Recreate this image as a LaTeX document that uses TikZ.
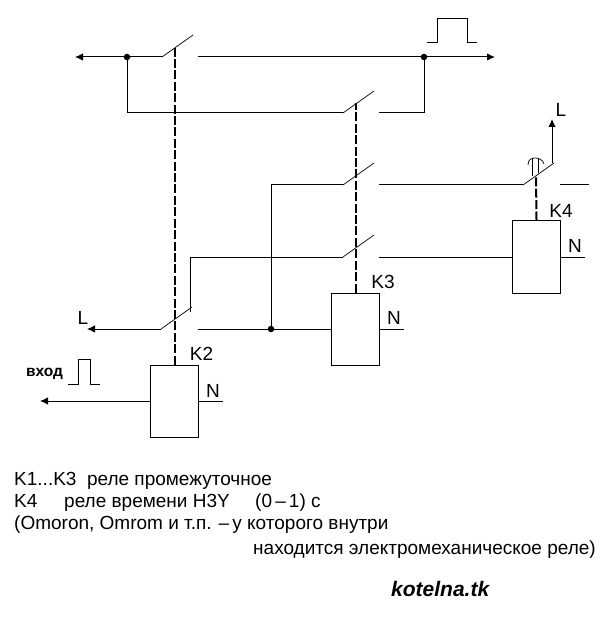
\documentclass[tikz,border=0pt]{standalone}
\usepackage{fontspec}
\setmainfont{Liberation Sans}
\usetikzlibrary{arrows.meta}
\definecolor{wire}{RGB}{0, 0, 0}

\tikzset{
  relay/.style={draw=wire, line width=1, minimum width=48.5, minimum height=72, inner sep=0},
  link/.style={wire, line width=1},
  contact/.style={wire, line width=0.7},
  linkage/.style={wire, line width=2, dash pattern=on 9 off 2.4},
  junction/.style={circle, fill=wire, minimum size=6.5, inner sep=0},
  wiretip/.style={-{Latex[length=8, width=7.5]}},
  tag/.style={font=\fontsize{19}{19}\selectfont, inner sep=0},
  memo/.style={font=\fontsize{19}{19}\selectfont, anchor=base west, inner sep=0}
}

\begin{document}
\begin{tikzpicture}[x=1pt, y=-1pt]
  \useasboundingbox (0, 0) rectangle (609, 617);

  % Relays
  \node[relay] (K2) at (174.5, 401) {};
  \node[relay] (K3) at (355.5, 329) {};
  \node[relay] (K4) at (536.5, 257) {};

  % Junctions
  \node[junction] (jA) at (127, 57) {};
  \node[junction] (jB) at (424, 57) {};
  \node[junction] (jC) at (271, 329) {};

  % Free ends
  \coordinate (inL) at (75, 57);
  \coordinate (inR) at (495, 57);
  \coordinate (outL) at (87, 329);
  \coordinate (outK) at (40, 401);
  \coordinate (outU) at (552, 119);

  % Top line and its bypass
  \draw[link, wiretip] (jA) -- (inL);
  \draw[link, wiretip] (jB) -- (inR);
  \draw[link] (jA) -- (162, 57);
  \draw[link] (198, 57) -- (jB);
  \draw[link] (jA) |- (343, 113);
  \draw[link] (379, 113) -| (jB);

  % Middle lines
  \draw[link] (jC) |- (343, 185);
  \draw[link] (379, 185) -- (523, 185);
  \draw[link] (560, 185) -- (589, 185);
  \draw[link] (190, 312) |- (343, 257);
  \draw[link] (379, 257) -- (K4.west);

  % Bottom lines
  \draw[link, wiretip] (161, 329) -- (outL);
  \draw[link] (198, 329) -- (jC);
  \draw[link] (jC) -- (K3.west);
  \draw[link, wiretip] (K2.west) -- (outK);
  \draw[link, wiretip] (552, 163) -- (outU);

  % Contacts
  \foreach \cx/\cy in {162/57, 343/113, 343/185, 343/257, 161/329, 523/185} {
    \draw[contact] (\cx, \cy) -- ++(31, -22);
  }

  % Mechanical linkages
  \draw[linkage] (K2.north) -- (174.5, 47);
  \draw[linkage] (K3.north) -- (355.5, 103);
  \draw[linkage] (K4.north) -- (536, 175);

  % Delay mark of K4
  \draw[contact] (532, 176) -- (532, 158);
  \draw[contact] (538, 173) -- (538, 158);
  \draw[contact] (528, 165) .. controls (528, 160) and (531, 158) .. (535, 158)
    .. controls (539, 158) and (543, 160) .. (544, 164);

  % N stubs
  \foreach \rel in {K2, K3, K4} {
    \draw[link] (\rel.east) -- ++(24, 0);
  }
  \node[tag] (n2) at (213, 391) {N};
  \node[tag] (n3) at (394, 318) {N};
  \node[tag] (n4) at (575, 246) {N};

  % Relay names
  \node[tag] (k2) at (201.5, 354) {K2};
  \node[tag] (k3) at (383, 282) {K3};
  \node[tag] (k4) at (561, 211) {K4};
  \node[tag] (lL) at (83, 318) {L};
  \node[tag] (lU) at (561, 110) {L};

  % Pulses
  \draw[link] (427, 43) -- (437, 43) -- (437, 19) -- (467, 19) -- (467, 43) -- (477, 43);
  \draw[link] (68, 384) -- (78, 384) -- (78, 359) -- (90, 359) -- (90, 384) -- (100, 384);
  \node[font=\fontsize{15.5}{15.5}\selectfont\bfseries, inner sep=0] (vhod) at (44.5, 374) {вход};

  % Notes
  \node[memo] (m1) at (14, 485.5) {K1...K3~~реле промежуточное};
  \node[memo] (m2) at (14, 507.5) {K4};
  \node[memo] (m2a) at (64, 507.5) {реле времени H3Y};
  \node[memo] (m2b) at (255, 507.5) {(0\,--\,1) с};
  \node[memo] (m3) at (14, 529) {(Omoron, Omrom и т.п. --\,у которого внутри};
  \node[memo] (m4) at (253, 554) {находится электромеханическое реле)};
  \node[memo, font=\fontsize{21}{21}\selectfont\bfseries\itshape] (site) at (391, 596.5) {kotelna.tk};
\end{tikzpicture}
\end{document}
